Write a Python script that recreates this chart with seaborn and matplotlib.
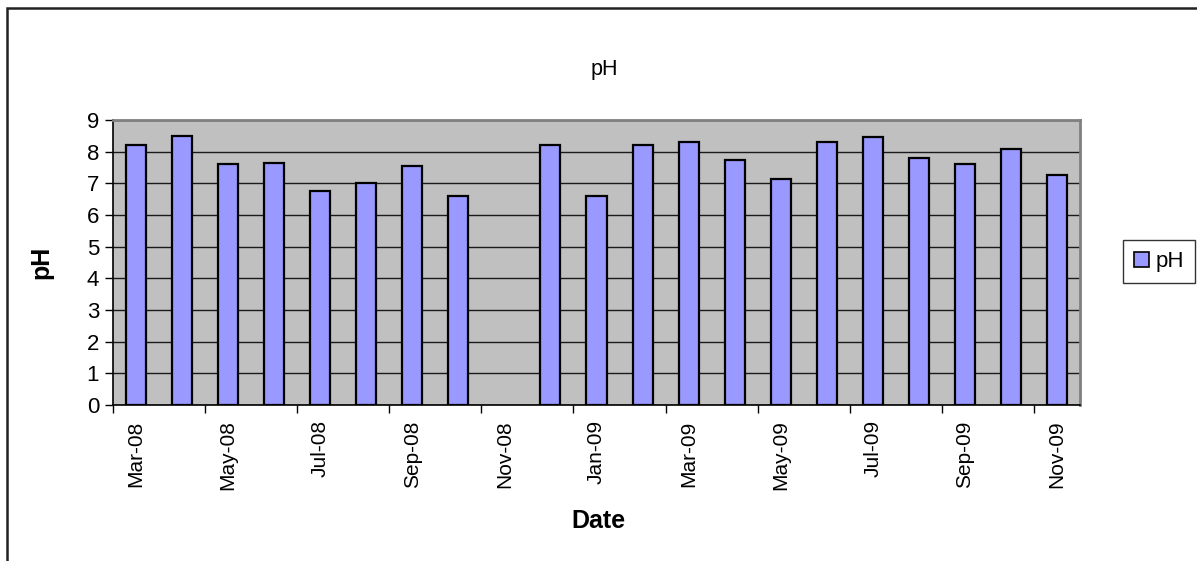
import numpy as np
import pandas as pd
import matplotlib
matplotlib.use("Agg")
import matplotlib.pyplot as plt
from matplotlib.patches import Patch, Rectangle
import seaborn as sns

# Monthly pH readings, March 2008 to November 2009 (no sample in Nov-08)
months = ["Mar-08", "Apr-08", "May-08", "Jun-08", "Jul-08", "Aug-08", "Sep-08",
          "Oct-08", "Nov-08", "Dec-08", "Jan-09", "Feb-09", "Mar-09", "Apr-09",
          "May-09", "Jun-09", "Jul-09", "Aug-09", "Sep-09", "Oct-09", "Nov-09"]
ph_values = [8.2, 8.5, 7.6, 7.65, 6.75, 7.0, 7.55,
             6.6, np.nan, 8.2, 6.6, 8.2, 8.3, 7.75,
             7.15, 8.3, 8.45, 7.8, 7.6, 8.1, 7.25]
y_ticks = list(range(0, 10))

df = pd.DataFrame({"Date": months, "pH": ph_values})

plt.rcParams["font.family"] = ["Liberation Sans", "DejaVu Sans"]

W, H = 1197, 561
fig = plt.figure(figsize=(W / 100, H / 100), dpi=100)
fig.patch.set_facecolor("white")

left, right, top, bottom = 113, 1080, 120, 405
ax = fig.add_axes([left / W, 1 - bottom / H, (right - left) / W, (bottom - top) / H])
ax.set_facecolor("#C0C0C0")

sns.barplot(data=df, x="Date", y="pH", order=months, color="#9999FF",
            saturation=1, edgecolor="black", linewidth=1.6, width=0.435,
            errorbar=None, ax=ax, zorder=3)

ax.set_xlim(-0.5, len(months) - 0.5)
ax.set_ylim(0, 9)
ax.set_yticks(y_ticks)
ax.yaxis.grid(True, color="#1a1a1a", linewidth=1.0, zorder=1)
ax.set_axisbelow(True)

# Labels on every other month, tick marks at the category boundaries
label_pos = list(range(0, len(months), 2))
ax.set_xticks(label_pos)
ax.set_xticklabels([months[i] for i in label_pos], rotation=90)
ax.set_xticks([p - 0.5 for p in label_pos], minor=True)
ax.tick_params(axis="x", which="major", length=0, pad=11, labelsize=15)
ax.tick_params(axis="x", which="minor", length=6, width=1.0, color="black")
ax.tick_params(axis="y", length=6, width=1.0, color="black", labelsize=16, pad=4)

for side in ("top", "right"):
    ax.spines[side].set_color("#808080")
    ax.spines[side].set_linewidth(2.0)
for side in ("left", "bottom"):
    ax.spines[side].set_color("black")
    ax.spines[side].set_linewidth(1.2)

ax.set_xlabel("")
ax.set_ylabel("")
fig.text(598 / W, 1 - 521 / H, "Date", ha="center", va="center",
         fontsize=18, fontweight="bold")
fig.text(41 / W, 1 - 262 / H, "pH", ha="center", va="center",
         fontsize=18, fontweight="bold", rotation=90)
fig.text(604 / W, 1 - 70 / H, "pH", ha="center", va="center", fontsize=15.5)

handle = Patch(facecolor="#9999FF", edgecolor="black", linewidth=1.2, label="pH")
leg = fig.legend(handles=[handle], loc="upper left",
                 bbox_to_anchor=(1123 / W, 1 - 240 / H), fontsize=16,
                 frameon=True, fancybox=False, shadow=False,
                 handlelength=0.65, handleheight=0.65, handletextpad=0.3,
                 borderpad=0.5, borderaxespad=0)
leg.get_frame().set_edgecolor("black")
leg.get_frame().set_linewidth(1.0)

# Outer chart border
fig.patches.append(Rectangle((7 / W, -0.2), 1.2, 1 - 8 / H + 0.2,
                             transform=fig.transFigure, fill=False,
                             edgecolor="#222222", linewidth=1.8))

fig.savefig("out.png", dpi=100)
